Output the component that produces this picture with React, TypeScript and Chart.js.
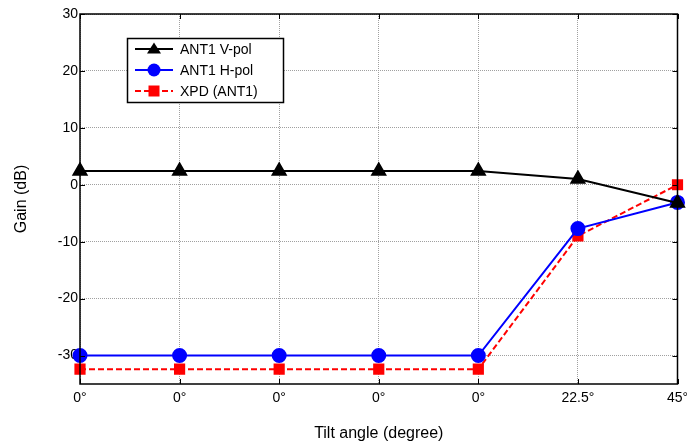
import React, { useEffect, useRef } from "react";
import { Chart, registerables } from "chart.js";
Chart.register(...registerables);

const categories = ["0°", "0°", "0°", "0°", "0°", "22.5°", "45°"];
const vPol = [2.4, 2.4, 2.4, 2.4, 2.4, 1.0, -3.2];
const hPol = [-30, -30, -30, -30, -30, -7.7, -3.1];
const xpd = [-32.4, -32.4, -32.4, -32.4, -32.4, -9.0, 0];
const seriesNames = ["ANT1 V-pol", "ANT1 H-pol", "XPD (ANT1)"];
const yTicks = [30, 20, 10, 0, -10, -20, -30];

const FONT = "'Liberation Sans', Arial, sans-serif";

const framePlugin = {
  id: "frame",
  afterDatasetsDraw(chart: any) {
    const { ctx, chartArea: a, scales } = chart;
    ctx.save();
    ctx.strokeStyle = "#000";
    ctx.lineWidth = 1;
    ctx.setLineDash([]);
    ctx.beginPath();
    const tl = 5;
    scales.x.ticks.forEach((_: any, i: number) => {
      const x = Math.round(scales.x.getPixelForTick(i)) + 0.5;
      ctx.moveTo(x, a.bottom);
      ctx.lineTo(x, a.bottom - tl);
      ctx.moveTo(x, a.top);
      ctx.lineTo(x, a.top + tl);
    });
    scales.y.ticks.forEach((t: any) => {
      const y = Math.round(scales.y.getPixelForValue(t.value)) + 0.5;
      ctx.moveTo(a.left, y);
      ctx.lineTo(a.left + tl, y);
      ctx.moveTo(a.right, y);
      ctx.lineTo(a.right - tl, y);
    });
    ctx.stroke();
    ctx.lineWidth = 1.5;
    ctx.strokeRect(a.left, a.top, a.right - a.left, a.bottom - a.top);
    ctx.restore();
  },
  afterDraw(chart: any) {
    const { ctx } = chart;
    const bx = 127, by = 38, bw = 156, bh = 64;
    ctx.save();
    ctx.fillStyle = "#fff";
    ctx.fillRect(bx, by, bw, bh);
    ctx.strokeStyle = "#000";
    ctx.lineWidth = 1.5;
    ctx.setLineDash([]);
    ctx.strokeRect(bx + 0.5, by + 0.5, bw, bh);
    chart.data.datasets.forEach((ds: any, i: number) => {
      const y = by + 11 + i * 21;
      ctx.strokeStyle = ds.borderColor;
      ctx.lineWidth = 2;
      ctx.setLineDash(ds.borderDash || []);
      ctx.beginPath();
      ctx.moveTo(135, y);
      ctx.lineTo(173, y);
      ctx.stroke();
      ctx.setLineDash([]);
      ctx.fillStyle = ds.pointBackgroundColor;
      const cx = 154;
      ctx.beginPath();
      if (ds.pointStyle === "triangle") {
        ctx.moveTo(cx, y - 6.5);
        ctx.lineTo(cx + 7, y + 4.5);
        ctx.lineTo(cx - 7, y + 4.5);
        ctx.closePath();
      } else if (ds.pointStyle === "circle") {
        ctx.arc(cx, y, 6.5, 0, Math.PI * 2);
      } else {
        ctx.rect(cx - 5.5, y - 5.5, 11, 11);
      }
      ctx.fill();
      ctx.fillStyle = "#000";
      ctx.font = `14px ${FONT}`;
      ctx.textBaseline = "middle";
      ctx.textAlign = "left";
      ctx.fillText(ds.label, 180, y + 1);
    });
    ctx.restore();
  },
};

export default function App() {
  const ref = useRef<HTMLCanvasElement>(null);
  useEffect(() => {
    const chart = new Chart(ref.current!, {
      type: "line",
      data: {
        labels: categories,
        datasets: [
          {
            label: seriesNames[0],
            data: vPol,
            borderColor: "#000",
            backgroundColor: "#000",
            pointBackgroundColor: "#000",
            pointBorderColor: "#000",
            pointStyle: "triangle",
            pointRadius: 7.5,
            borderWidth: 2,
          },
          {
            label: seriesNames[1],
            data: hPol,
            borderColor: "#0000ff",
            backgroundColor: "#0000ff",
            pointBackgroundColor: "#0000ff",
            pointBorderColor: "#0000ff",
            pointStyle: "circle",
            pointRadius: 6.5,
            borderWidth: 2,
          },
          {
            label: seriesNames[2],
            data: xpd,
            borderColor: "#ff0000",
            backgroundColor: "#ff0000",
            pointBackgroundColor: "#ff0000",
            pointBorderColor: "#ff0000",
            pointStyle: "rect",
            pointRadius: 6.5,
            borderWidth: 2,
            borderDash: [6, 3],
          },
        ] as any,
      },
      options: {
        animation: false,
        responsive: false,
        maintainAspectRatio: false,
        layout: { padding: { top: 14, right: 4, left: 0, bottom: 0 } },
        plugins: {
          legend: { display: false },
          tooltip: { enabled: false },
        },
        scales: {
          x: {
            type: "category",
            offset: false,
            grid: {
              color: "#a0a0a0",
              lineWidth: 1,
              drawTicks: false,
            },
            border: { display: false, dash: [1, 1] } as any,
            ticks: {
              color: "#000",
              font: { family: FONT, size: 14 },
              padding: 6,
              maxRotation: 0,
              autoSkip: false,
            },
            title: {
              display: true,
              text: "Tilt angle (degree)",
              color: "#000",
              font: { family: FONT, size: 16 },
              padding: { top: 2, bottom: 0 },
            },
            afterFit(scale: any) {
              scale.height = 59;
              scale.paddingLeft = 0;
              scale.paddingRight = 0;
            },
          },
          y: {
            min: -35,
            max: 30,
            afterBuildTicks(scale: any) {
              scale.ticks = yTicks.map((v) => ({ value: v }));
            },
            grid: {
              color: "#a0a0a0",
              lineWidth: 1,
              drawTicks: false,
            },
            border: { display: false, dash: [1, 1] } as any,
            ticks: {
              color: "#000",
              font: { family: FONT, size: 14 },
              padding: 2,
            },
            title: {
              display: true,
              text: "Gain (dB)",
              color: "#000",
              font: { family: FONT, size: 16 },
              padding: { top: 12, bottom: 6 },
            },
            afterFit(scale: any) {
              scale.width = 80;
              scale.paddingTop = 0;
              scale.paddingBottom = 0;
            },
          },
        },
      } as any,
      plugins: [framePlugin],
    });
    return () => chart.destroy();
  }, []);
  return (
    <div style={{ position: "fixed", left: 0, top: 0, width: 687, height: 443, background: "#fff" }}>
      <canvas ref={ref} width={687} height={443} style={{ width: 687, height: 443 }} />
    </div>
  );
}
